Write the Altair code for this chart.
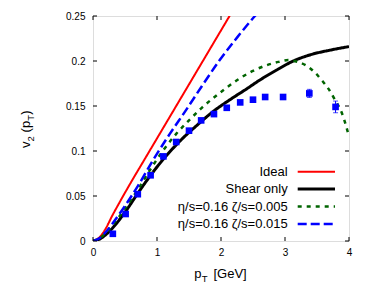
import altair as alt
import pandas as pd

# ---- data ----
x_ticks = [0, 1, 2, 3, 4]
y_ticks = [0, 0.05, 0.1, 0.15, 0.2, 0.25]

ideal_x = [0, 0.1, 0.2, 0.3, 0.4, 0.6, 0.8, 1.0, 1.2, 1.4, 1.6, 1.8, 2.0, 2.2, 2.3]
ideal_y = [0, 0.004, 0.014, 0.028, 0.041, 0.066, 0.090, 0.114, 0.138, 0.162, 0.186, 0.210, 0.234, 0.258, 0.270]

shear_x = [0, 0.1, 0.2, 0.3, 0.5, 0.7, 0.9, 1.1, 1.25, 1.4, 1.6, 1.88, 2.14, 2.4, 2.61, 2.87, 3.1, 3.4, 3.7, 4.0]
shear_y = [0, 0.002, 0.007, 0.014, 0.032, 0.053, 0.073, 0.091, 0.103, 0.114, 0.127, 0.144, 0.157, 0.169, 0.179, 0.190, 0.199, 0.207, 0.212, 0.216]

b005_x = [0, 0.1, 0.2, 0.3, 0.5, 0.7, 0.9, 1.1, 1.3, 1.5, 1.7, 1.9, 2.1, 2.3, 2.5, 2.7, 2.9, 3.05, 3.2, 3.33, 3.47, 3.57, 3.68, 3.78, 3.89, 3.95, 4.0]
b005_y = [0, 0.003, 0.009, 0.017, 0.036, 0.057, 0.080, 0.101, 0.119, 0.134, 0.148, 0.160, 0.171, 0.181, 0.189, 0.195, 0.199, 0.201, 0.199, 0.195, 0.187, 0.179, 0.169, 0.157, 0.142, 0.129, 0.116]

b015_x = [0, 0.1, 0.2, 0.3, 0.5, 0.7, 0.94, 1.2, 1.44, 1.7, 1.98, 2.25, 2.53, 2.7]
b015_y = [0, 0.003, 0.010, 0.019, 0.039, 0.061, 0.090, 0.119, 0.144, 0.172, 0.201, 0.226, 0.250, 0.263]

data_x = [0.31, 0.51, 0.70, 0.90, 1.10, 1.30, 1.50, 1.69, 1.89, 2.09, 2.30, 2.50, 2.69, 2.97, 3.38, 3.79]
data_y = [0.008, 0.030, 0.052, 0.073, 0.094, 0.110, 0.1226, 0.134, 0.141, 0.148, 0.154, 0.157, 0.160, 0.160, 0.164, 0.149]
data_err = [0.001, 0.001, 0.001, 0.001, 0.001, 0.001, 0.001, 0.001, 0.001, 0.001, 0.001, 0.0015, 0.0015, 0.002, 0.0045, 0.0065]

legend_labels = ["Ideal", "Shear only", "η/s=0.16 ζ/s=0.005", "η/s=0.16 ζ/s=0.015"]

# ---- layout / style ----
W, H = 256, 225
FONT = "Liberation Sans"
FS = 13
xs = alt.Scale(domain=[0, 4], nice=False, zero=False)
ys = alt.Scale(domain=[0, 0.25], nice=False, zero=False)
AX = alt.Axis(values=x_ticks, ticks=False, domain=False, grid=False, title=None,
              labelPadding=6, labelFlush=False)
AY = alt.Axis(values=y_ticks, ticks=False, domain=False, grid=False, title=None,
              labelPadding=8, labelFlush=False, labelExpr="toString(datum.value)")


def X(f):
    return alt.X(f, scale=xs, axis=AX, title=None)


def Y(f):
    return alt.Y(f, scale=ys, axis=AY, title=None)


styles = [
    dict(color="#ff0000", strokeWidth=2, strokeDash=[1, 0], clip=True),
    dict(color="#000000", strokeWidth=3, strokeDash=[1, 0], clip=True),
    dict(color="#006400", strokeWidth=2.5, strokeDash=[4, 5], clip=True),
    dict(color="#0000ff", strokeWidth=2.5, strokeDash=[9, 4], clip=True),
]
series = [(ideal_x, ideal_y), (shear_x, shear_y), (b005_x, b005_y), (b015_x, b015_y)]

layers = []
for (sx, sy), st in zip(series, styles):
    df = pd.DataFrame({"x": sx, "y": sy})
    layers.append(alt.Chart(df).mark_line(interpolate="monotone", **st).encode(x=X("x:Q"), y=Y("y:Q")))

# data points with error bars
pts = pd.DataFrame({"x": data_x, "y": data_y, "err": data_err})
pts["lo"] = pts["y"] - pts["err"]
pts["hi"] = pts["y"] + pts["err"]
ptbase = alt.Chart(pts)
layers.append(ptbase.mark_rule(color="#0000ff", strokeWidth=1).encode(
    x=X("x:Q"), y=Y("lo:Q"), y2="hi:Q"))
for cap in ["lo", "hi"]:
    layers.append(ptbase.mark_tick(color="#0000ff", orient="horizontal", size=5, thickness=1).encode(
        x=X("x:Q"), y=Y(f"{cap}:Q")))
layers.append(ptbase.mark_square(color="#0000ff", size=44, opacity=1).encode(
    x=X("x:Q"), y=Y("y:Q")))

# inward ticks on all four sides
xt = alt.Chart(pd.DataFrame({"v": x_ticks}))
yt = alt.Chart(pd.DataFrame({"v": y_ticks}))
TL = 4
layers.append(xt.mark_rule(color="black", strokeWidth=1).encode(
    x=X("v:Q"), y=alt.value(H - TL), y2=alt.value(H)))
layers.append(xt.mark_rule(color="black", strokeWidth=1).encode(
    x=X("v:Q"), y=alt.value(0), y2=alt.value(TL)))
layers.append(yt.mark_rule(color="black", strokeWidth=1).encode(
    y=Y("v:Q"), x=alt.value(0), x2=alt.value(TL)))
layers.append(yt.mark_rule(color="black", strokeWidth=1).encode(
    y=Y("v:Q"), x=alt.value(W - TL), x2=alt.value(W)))

one = pd.DataFrame({"k": [0]})


def txt(s, x, y, size=FS, align="left", baseline="alphabetic", angle=0):
    kw = dict(text=s, align=align, baseline=baseline, fontSize=size, font=FONT, color="black")
    if angle:
        kw["angle"] = angle
    return alt.Chart(one).mark_text(**kw).encode(x=alt.value(x), y=alt.value(y))


# x-axis title: p_T [GeV]
layers.append(txt("p", 101.3, 262))
layers.append(txt("T", 108.8, 265.5, size=9.5))
layers.append(txt("[GeV]", 120.5, 262))

# y-axis title: v_2 (p_T), rotated
yb, ysub = -63, -59.5
y0 = 132
layers.append(txt("v", yb, y0, angle=270))
layers.append(txt("2", ysub, y0 - 6.6, size=9.5, angle=270))
layers.append(txt("(p", yb, y0 - 15.6, angle=270))
layers.append(txt("T", ysub, y0 - 27.3, size=9.5, angle=270))
layers.append(txt(")", yb, y0 - 33.2, angle=270))

# legend (text left, sample right, like gnuplot)
leg_y = [155.7, 173.0, 190.5, 208.0]
for lab, ly, st in zip(legend_labels, leg_y, styles):
    layers.append(txt(lab, 194.7, ly, align="right", baseline="middle"))
    lst = {k: v for k, v in st.items() if k != "clip"}
    layers.append(alt.Chart(one).mark_rule(**lst).encode(
        x=alt.value(204.7), x2=alt.value(242), y=alt.value(ly)))

chart = alt.layer(*layers).properties(
    width=W, height=H,
    padding={"left": 85, "top": 8, "right": 5, "bottom": 50},
    autosize=alt.AutoSizeParams(type="none"),
).configure_view(stroke="black", strokeWidth=1).configure_axis(
    labelFont=FONT, labelFontSize=FS, labelColor="black"
).configure(background="white")

chart.save("out.html", embed_options={"renderer": "svg", "actions": False})
